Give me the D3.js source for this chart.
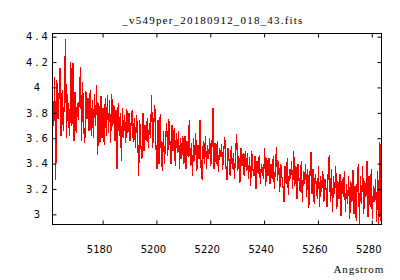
<!DOCTYPE html>
<html>
<head>
<meta charset="utf-8">
<script src="https://cdn.jsdelivr.net/npm/d3@7"></script>
<style>
body { margin: 0; background: #fff; }
</style>
</head>
<body>
<script>
const w = 400;
const h = 280;

// spectrum: linear wavelength grid (start + step*i), flux
const wlStart = 5161.4;
const wlStep = 0.4;
const flux = [
  3.98, 3.70, 4.08, 3.27, 4.06, 3.75, 3.92, 4.15, 3.62, 3.98, 3.66, 3.90,
  4.38, 3.60, 3.95, 3.72, 3.62, 4.20, 3.70, 4.19, 3.58, 3.96, 3.64, 3.88,
  3.74, 3.94, 4.16, 3.58, 4.04, 3.68, 3.56, 3.97, 3.75, 3.92, 3.66, 3.98,
  3.62, 3.90, 3.60, 3.95, 3.70, 4.02, 3.47, 3.88, 3.56, 3.93, 3.60, 3.84, 3.55, 3.92, 3.62,
  3.94, 3.64, 3.90, 3.56, 3.95, 3.70, 3.86, 3.58, 3.82, 3.36, 3.88, 3.62, 3.80,
  3.42, 3.84, 3.60, 3.78, 3.56, 3.83, 3.64, 3.80, 3.58, 3.72, 3.82, 3.57, 3.76,
  3.52, 3.78, 3.66, 3.30, 3.74, 3.55, 3.44, 3.80, 3.50, 3.70, 3.58, 3.76, 3.52, 3.72, 3.60,
  3.94, 3.52, 3.70, 3.86, 3.55, 3.36, 3.74, 3.40, 3.79, 3.48, 3.34, 3.66, 3.40, 3.60,
  3.72, 3.46, 3.75, 3.58, 3.40, 3.70, 3.50, 3.68, 3.38, 3.64, 3.48, 3.66, 3.36, 3.60, 3.44, 3.62,
  3.40, 3.62, 3.36, 3.58, 3.45, 3.74, 3.38, 3.56, 3.30, 3.60, 3.42, 3.64, 3.34, 3.55, 3.44, 3.74, 3.36, 3.27,
  3.58, 3.40, 3.62, 3.36, 3.55, 3.44, 3.60, 3.38, 3.52, 3.84,
  3.36, 3.56, 3.40, 3.58, 3.33, 3.52, 3.45, 3.55, 3.35, 3.50, 3.61, 3.38,
  3.27, 3.52, 3.42, 3.30, 3.54, 3.36, 3.48, 3.28, 3.50, 3.63, 3.34, 3.46, 3.25, 3.52, 3.38, 3.48, 3.30, 3.50, 3.34,
  3.48, 3.28, 3.45, 3.22, 3.50, 3.36, 3.30, 3.46, 3.20, 3.42, 3.32, 3.47, 3.24, 3.40, 3.34, 3.28, 3.52, 3.22, 3.44, 3.30,
  3.44, 3.24, 3.40, 3.28, 3.46, 3.20, 3.38, 3.53, 3.26, 3.42, 3.18, 3.40, 3.30, 3.22, 3.10, 3.38, 3.24, 3.44, 3.15, 3.36, 3.28, 3.42, 3.20,
  3.50, 3.22, 3.38, 3.12, 3.40, 3.26, 3.18, 3.42, 3.10, 3.34, 3.24, 3.40, 3.14, 3.36, 3.05, 3.30,
  3.49, 3.16, 3.36, 3.08, 3.32, 3.22, 3.12, 3.38, 3.06, 3.30, 3.18, 3.34, 3.10, 3.28, 3.20, 3.06, 3.34, 3.47,
  3.10, 3.36, 3.02, 3.30, 3.16, 3.38, 3.04, 3.26, 3.12, 3.32, 2.99, 3.28, 3.14, 3.34, 3.02, 3.24, 3.08, 3.30, 2.96, 3.26, 3.10, 3.35, 3.00, 3.22, 2.95, 3.28,
  3.40, 2.92, 3.30, 3.08, 3.38, 3.00, 3.26, 3.14, 3.42, 2.98, 3.30, 3.06, 3.36, 2.96, 3.22, 3.10, 3.28, 2.94, 3.34, 2.92, 3.57, 2.95
];

const xTicks = [5180, 5200, 5220, 5240, 5260, 5280];
const yTicks = [3, 3.2, 3.4, 3.6, 3.8, 4, 4.2, 4.4];
const yTickLabels = ['3', '3.2', '3.4', '3.6', '3.8', '4', '4.2', '4.4'];
const title = '_v549per_20180912_018_43.fits';
const xLabel = 'Angstrom';

const pl = 52.5, pr = 381.5, pt = 33.5, pb = 224.5;

const svg = d3.select('body').append('svg').attr('width', w).attr('height', h);

const data = flux.map((f, i) => ({wl: wlStart + i * wlStep, f: f}));

const xScale = d3.scaleLinear().domain([5161.4, 5283.6]).range([pl, pr]);
const yScale = d3.scaleLinear().domain([2.92, 4.425]).range([pb, pt]);

// spectrum
svg.append('clipPath').attr('id', 'clip')
  .append('rect').attr('x', pl).attr('y', pt).attr('width', pr - pl).attr('height', pb - pt);

const line = d3.line().x(d => xScale(d.wl)).y(d => yScale(d.f));
svg.append('path').datum(data)
  .attr('d', line)
  .attr('clip-path', 'url(#clip)')
  .attr('fill', 'none')
  .attr('stroke', '#ff0000')
  .attr('stroke-width', 1.2)
  .attr('shape-rendering', 'crispEdges');

// ticks on all four sides, pointing inward
const tickStyle = g => {
  g.select('.domain').remove();
  g.selectAll('line').attr('stroke', '#000');
};
svg.append('g').attr('transform', 'translate(0,' + pb + ')')
  .call(d3.axisBottom(xScale).tickValues(xTicks).tickSizeInner(-4).tickSizeOuter(0).tickFormat(''))
  .call(tickStyle);
svg.append('g').attr('transform', 'translate(0,' + pt + ')')
  .call(d3.axisTop(xScale).tickValues(xTicks).tickSizeInner(-4).tickSizeOuter(0).tickFormat(''))
  .call(tickStyle);
svg.append('g').attr('transform', 'translate(' + pl + ',0)')
  .call(d3.axisLeft(yScale).tickValues(yTicks).tickSizeInner(-4).tickSizeOuter(0).tickFormat(''))
  .call(tickStyle);
svg.append('g').attr('transform', 'translate(' + pr + ',0)')
  .call(d3.axisRight(yScale).tickValues(yTicks).tickSizeInner(-4).tickSizeOuter(0).tickFormat(''))
  .call(tickStyle);

// frame
svg.append('rect')
  .attr('x', pl).attr('y', pt)
  .attr('width', pr - pl).attr('height', pb - pt)
  .attr('fill', 'none').attr('stroke', '#000').attr('stroke-width', 1);

// tick labels
svg.selectAll('.xlab').data(xTicks).enter()
  .append('text')
  .attr('class', 'xlab')
  .attr('x', d => xScale(d) - 3)
  .attr('y', 253)
  .attr('text-anchor', 'middle')
  .style('font-family', 'DejaVu Sans')
  .style('font-size', '10px')
  .style('fill', '#000')
  .text(d => d);

svg.selectAll('.ylab').data(yTicks).enter()
  .append('text')
  .attr('class', 'ylab')
  .attr('x', 38.5)
  .attr('y', d => yScale(d) + 3.7)
  .attr('text-anchor', 'middle')
  .style('font-family', 'DejaVu Sans')
  .style('font-size', '10px')
  .style('letter-spacing', '3px')
  .style('fill', '#000')
  .text((d, i) => yTickLabels[i]);

svg.append('text')
  .attr('x', 213)
  .attr('y', 24)
  .attr('text-anchor', 'middle')
  .style('font-family', 'Liberation Serif')
  .style('font-size', '11px')
  .style('letter-spacing', '1.2px')
  .style('fill', '#000')
  .text(title);

svg.append('text')
  .attr('x', 384)
  .attr('y', 273)
  .attr('text-anchor', 'end')
  .style('font-family', 'Liberation Serif')
  .style('font-size', '11px')
  .style('letter-spacing', '0.8px')
  .style('fill', '#000')
  .text(xLabel);
</script>
</body>
</html>
